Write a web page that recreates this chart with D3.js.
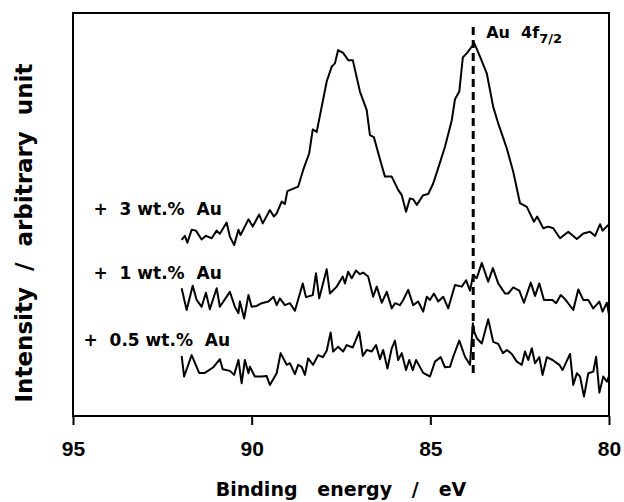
<!DOCTYPE html>
<html>
<head>
<meta charset="utf-8">
<script src="https://cdn.jsdelivr.net/npm/d3@7"></script>
<style>
  html, body { margin: 0; padding: 0; background: #fff; }
  svg { display: block; }
  text { font-family: "DejaVu Sans", "Liberation Sans", Arial, sans-serif; font-weight: bold; fill: #000; }
</style>
</head>
<body>
<svg id="chart" width="624" height="502"></svg>
<script>
// XPS Au 4f region for three gold loadings (binding energy in eV, intensity in arbitrary units)
const energy3 = [91.96,91.87,91.80,91.68,91.56,91.40,91.28,91.12,90.98,90.89,90.70,90.61,90.49,90.37,90.31,90.09,89.97,89.79,89.69,89.49,89.38,89.30,89.16,89.07,89.00,88.70,88.56,88.39,88.29,88.18,87.90,87.76,87.67,87.58,87.44,87.30,87.17,86.97,86.78,86.69,86.58,86.39,86.27,86.08,85.90,85.80,85.68,85.57,85.48,85.38,85.20,85.06,84.92,84.78,84.59,84.40,84.31,84.19,84.09,83.97,83.77,83.61,83.42,83.24,83.10,82.86,82.68,82.49,82.30,82.10,82.01,81.84,81.70,81.56,81.37,81.14,80.90,80.72,80.53,80.39,80.25,80.18,80.02];
const intensity3 = [43.7,44.7,43.0,46.2,46.0,43.8,44.7,44.1,46.0,45.2,48.0,44.5,42.4,46.2,44.9,48.8,47.0,50.0,47.8,51.1,49.5,50.3,53.2,52.6,55.8,56.9,61.0,65.2,71.1,70.5,83.0,86.7,87.5,90.8,90.1,88.3,88.3,80.5,75.9,69.7,69.2,63.1,59.4,59.4,56.1,54.8,50.7,54.0,53.8,52.4,54.8,55.1,57.7,61.5,66.8,73.4,78.6,80.5,89.0,90.1,92.5,89.2,85.0,76.7,72.6,66.4,60.6,52.8,51.9,48.2,49.5,46.6,47.0,46.6,44.1,45.7,43.9,45.3,45.7,44.7,47.6,46.0,47.4];

const energy1 = [91.96,91.82,91.65,91.54,91.40,91.28,91.17,90.98,90.89,90.61,90.47,90.37,90.33,90.21,90.09,90.00,89.86,89.72,89.53,89.39,89.30,89.21,89.07,88.93,88.79,88.57,88.48,88.29,88.20,88.11,87.90,87.81,87.62,87.45,87.39,87.30,87.20,87.08,86.97,86.88,86.74,86.60,86.50,86.36,86.22,86.08,85.99,85.85,85.76,85.62,85.48,85.34,85.20,85.10,85.01,84.90,84.78,84.64,84.50,84.31,84.12,84.00,83.89,83.80,83.70,83.56,83.38,83.25,83.10,82.91,82.82,82.68,82.51,82.38,82.19,82.07,81.95,81.82,81.58,81.48,81.35,81.23,81.00,80.86,80.72,80.58,80.44,80.27,80.18,80.06,80.00];
const intensity1 = [31.7,26.3,32.3,28.8,27.1,30.6,26.5,31.7,27.1,30.8,27.1,25.5,28.4,24.2,30.0,27.1,27.3,28.0,28.4,29.6,27.5,29.2,27.5,28.0,26.1,32.9,29.5,30.0,35.4,29.2,36.4,30.4,32.1,34.6,32.9,35.8,34.2,36.1,35.2,35.6,34.6,29.6,32.1,28.1,30.8,26.7,28.0,27.5,28.8,31.3,27.5,28.4,25.9,29.6,28.8,30.4,28.4,29.6,26.7,32.5,32.1,33.7,31.1,35.0,34.2,38.0,33.3,36.7,32.9,30.4,30.4,31.9,31.1,28.1,33.1,29.8,32.9,28.8,28.8,28.0,30.0,29.0,26.3,31.4,28.8,28.8,26.7,28.4,25.9,28.1,25.1];

const energy05 = [91.96,91.89,91.68,91.47,91.31,91.07,90.89,90.81,90.61,90.49,90.37,90.28,90.19,90.09,90.05,89.91,89.72,89.58,89.49,89.30,89.19,89.02,88.93,88.79,88.70,88.60,88.51,88.42,88.28,88.14,88.01,87.90,87.79,87.72,87.58,87.44,87.34,87.17,86.99,86.89,86.78,86.64,86.52,86.41,86.32,86.20,86.08,85.99,85.90,85.80,85.68,85.59,85.49,85.40,85.20,85.01,84.87,84.71,84.59,84.45,84.36,84.19,84.03,83.89,83.81,83.77,83.70,83.56,83.38,83.24,83.10,82.97,82.86,82.72,82.58,82.44,82.35,82.26,82.16,82.07,81.95,81.86,81.74,81.58,81.39,81.30,81.09,81.00,80.90,80.81,80.70,80.58,80.44,80.36,80.27,80.16,80.06,80.00];
const intensity05 = [14.9,9.8,15.1,10.7,10.7,12.1,14.1,11.6,11.2,10.2,13.9,8.1,13.9,10.6,12.2,9.8,9.8,9.9,7.7,10.6,15.6,12.7,13.1,10.4,12.7,12.2,10.2,14.3,12.7,15.1,14.6,16.2,20.7,16.0,17.2,16.0,17.6,17.0,20.9,14.9,16.4,16.0,17.6,14.1,16.4,11.8,16.8,18.7,13.9,15.6,11.4,13.9,11.4,13.9,10.7,9.8,13.5,14.6,12.1,12.2,14.7,18.7,14.7,12.7,23.0,20.9,19.3,18.0,24.0,18.4,17.9,15.6,16.4,15.4,13.5,12.7,16.0,13.9,16.8,13.1,14.6,10.2,14.6,13.9,12.7,11.4,15.4,7.7,10.6,9.8,4.8,10.6,11.0,14.7,5.8,9.8,8.5,9.9];

const NB = "\u00a0";
const seriesLabels = [
  "+" + NB + NB + "3" + NB + "wt.%" + NB + NB + "Au",
  "+" + NB + NB + "1" + NB + "wt.%" + NB + NB + "Au",
  "+" + NB + NB + "0.5" + NB + "wt.%" + NB + NB + "Au"
];
const xTicks = [95, 90, 85, 80];
const peakEnergy = 83.8;        // Au 4f7/2 reference position
const peakSpan = [10.2, 96.5];  // vertical extent of the marker line

const svg = d3.select("#chart");
const M = { left: 73, right: 609, top: 13, bottom: 416 };

const x = d3.scaleLinear().domain([95, 80]).range([M.left, M.right]);
const y = d3.scaleLinear().domain([0, 100]).range([M.bottom, M.top]);

// x axis with outward ticks
const xAxis = d3.axisBottom(x).tickValues(xTicks).tickSize(9).tickPadding(16).tickFormat(d3.format("d"));
const gx = svg.append("g").attr("transform", `translate(0,${M.bottom})`).call(xAxis);
gx.select(".domain").remove();
gx.selectAll(".tick line").attr("stroke", "#000").attr("stroke-width", 2);
gx.selectAll(".tick text")
  .style("font-family", "'Liberation Sans', Arial, sans-serif")
  .style("font-size", "21px").attr("fill", "#000");

// frame
svg.append("rect")
  .attr("x", M.left).attr("y", M.top)
  .attr("width", M.right - M.left).attr("height", M.bottom - M.top)
  .attr("fill", "none").attr("stroke", "#000").attr("stroke-width", 2);

// spectra
const line = d3.line().x(d => x(d[0])).y(d => y(d[1]));
const spectra = [
  d3.zip(energy3, intensity3),
  d3.zip(energy1, intensity1),
  d3.zip(energy05, intensity05)
];
svg.append("g").selectAll("path").data(spectra).join("path")
  .attr("d", line)
  .attr("fill", "none").attr("stroke", "#000")
  .attr("stroke-width", 2).attr("stroke-linejoin", "round");

// Au 4f7/2 marker
svg.append("line")
  .attr("x1", x(peakEnergy)).attr("x2", x(peakEnergy))
  .attr("y1", y(peakSpan[1])).attr("y2", y(peakSpan[0]))
  .attr("stroke", "#000").attr("stroke-width", 3).attr("stroke-dasharray", "8,5");

const peakLabel = svg.append("text")
  .attr("x", x(peakEnergy) + 13).attr("y", 38)
  .style("font-size", "16px");
peakLabel.append("tspan").text("Au" + NB + NB + "4f");
peakLabel.append("tspan").attr("dy", 5).style("font-size", "13px").text("7/2");

// series labels
const labelPos = [[93.5, 215], [93.5, 279], [83.5, 346]];
svg.append("g").selectAll("text").data(seriesLabels).join("text")
  .attr("x", (d, i) => labelPos[i][0]).attr("y", (d, i) => labelPos[i][1])
  .style("font-size", "17px")
  .text(d => d);

// axis titles
svg.append("text")
  .attr("x", (M.left + M.right) / 2).attr("y", 496)
  .attr("text-anchor", "middle").style("font-size", "19px")
  .text(["Binding", "energy", "/", "eV"].join(NB + NB + NB));

svg.append("text")
  .attr("transform", "translate(32,233) rotate(-90)")
  .attr("text-anchor", "middle").style("font-size", "23px")
  .text(["Intensity", "/", "arbitrary", "unit"].join(NB + NB));
</script>
</body>
</html>
